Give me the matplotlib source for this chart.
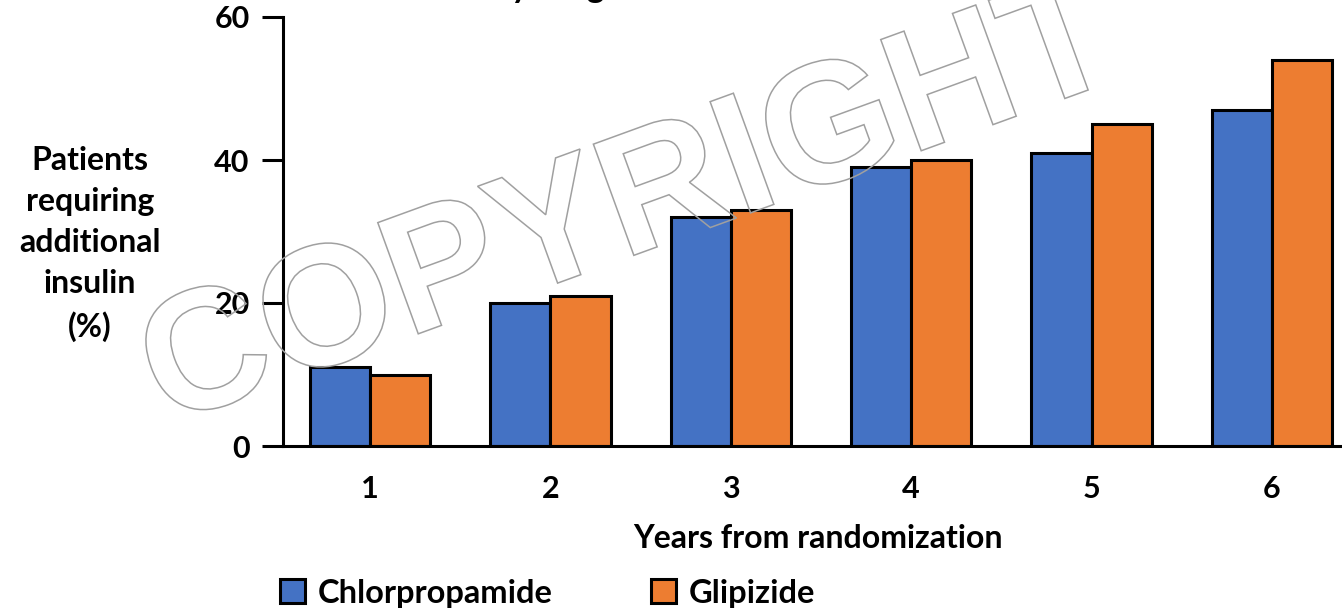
import matplotlib
matplotlib.use('Agg')
import matplotlib.pyplot as plt
import numpy as np
from matplotlib.textpath import TextPath
from matplotlib.patches import PathPatch
from matplotlib.font_manager import FontProperties
from matplotlib.transforms import Affine2D

years = [1, 2, 3, 4, 5, 6]
chlorpropamide = [11, 20, 32, 39, 41, 47]
glipizide = [10, 21, 33, 40, 45, 54]
yticks = [0, 20, 40, 60]

blue = '#4472C4'
orange = '#ED7D31'

plt.rcParams['font.family'] = ['Lato', 'DejaVu Sans']
plt.rcParams['font.weight'] = 'bold'

W, H = 1342, 612
fig = plt.figure(figsize=(W/100, H/100), dpi=100)
ax = fig.add_axes([283/W, 1-446/H, 1-283/W, (446-17)/H])

x = np.array(years)
w = 1/3
b1 = ax.bar(x - w/2, chlorpropamide, w, color=blue, edgecolor='black', linewidth=2.2, label='Chlorpropamide')
b2 = ax.bar(x + w/2, glipizide, w, color=orange, edgecolor='black', linewidth=2.2, label='Glipizide')

ax.set_xlim(0.518, 6.388)
ax.set_ylim(0, 60)
ax.set_yticks(yticks)
ax.set_xticks(years)
for s in ['top', 'right']:
    ax.spines[s].set_visible(False)
for s in ['left', 'bottom']:
    ax.spines[s].set_linewidth(2.2)
ax.tick_params(axis='y', length=15, width=2.2, pad=9, labelsize=22)
ax.tick_params(axis='x', length=0, pad=21, labelsize=22)
for lab in ax.get_xticklabels() + ax.get_yticklabels():
    lab.set_fontweight('bold')

fig.text(90/W, 1-244/H, 'Patients\nrequiring\nadditional\ninsulin\n(%)', ha='center', va='center',
         multialignment='center', fontsize=23, fontweight='bold', linespacing=1.5)
fig.text(818/W, 1-538/H, 'Years from randomization', ha='center', va='center', fontsize=23, fontweight='bold')

# title, cut off at the top edge as in the source image
fig.text(605/W, 1+1.6/H, 'Insulin use by drug', ha='right', va='baseline', fontsize=24, fontweight='bold')

fig.legend(handles=[b1, b2], loc='center left', bbox_to_anchor=(280/W, 1-593/H), bbox_transform=fig.transFigure,
           ncol=2, frameon=False, prop={'weight': 'bold', 'size': 23.5},
           handlelength=0.77, handleheight=0.77, handletextpad=0.4, columnspacing=3.0,
           borderpad=0, borderaxespad=0)

# watermark
tp = TextPath((0, 0), 'COPYRIGHT', size=1.72, prop=FontProperties(family='Liberation Sans'))
tr = Affine2D().rotate_deg(20).translate(1.65, (H-426)/100) + fig.dpi_scale_trans
wm = PathPatch(tp, transform=tr, facecolor='none', edgecolor='#a0a0a0', linewidth=1.1, zorder=5)
fig.add_artist(wm)

plt.savefig('out.png', dpi=100)
